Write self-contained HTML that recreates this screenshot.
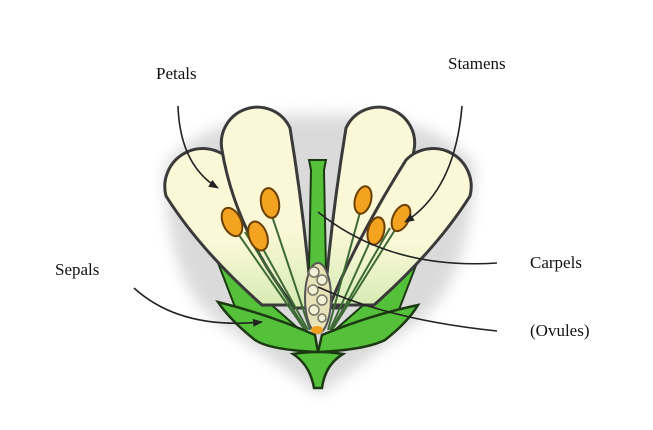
<!DOCTYPE html>
<html><head><style>
html,body{margin:0;padding:0;background:#fff;width:653px;height:430px;overflow:hidden}
text{font-family:"Liberation Serif",serif;font-size:17px;fill:#111}
</style></head><body>
<svg width="653" height="430" viewBox="0 0 653 430">
<defs>
<filter id="sh" x="-20%" y="-20%" width="140%" height="140%"><feGaussianBlur stdDeviation="7"/></filter>
<linearGradient id="pg" x1="0" y1="0" x2="0" y2="1"><stop offset="0.6" stop-color="#fbf8d8"/><stop offset="1" stop-color="#d6ecb4"/></linearGradient>
<marker id="ah" markerWidth="10" markerHeight="8" refX="9" refY="4" orient="auto" markerUnits="userSpaceOnUse"><path d="M0,0 L10,4 L0,8 Z" fill="#222"/></marker>
</defs>
<path d="M165,165 Q210,110 320,115 Q430,110 475,165 Q470,280 420,320 L320,395 L215,320 Q165,280 165,165Z" fill="#888" opacity="0.3" filter="url(#sh)"/>
<path d="M215,255 L300,330 L240,320Z" fill="#55c03a" stroke="#1c3a12" stroke-width="2"/>
<path d="M420,255 L335,330 L395,320Z" fill="#55c03a" stroke="#1c3a12" stroke-width="2"/>
<g stroke="#3a3a3a" stroke-width="3" fill="url(#pg)">
<path d="M262,305 Q200,250 166,196 A38,38 0 0 1 230,160 Q280,240 306,305 Z"/>
<path d="M295,308 Q235,230 222,150 A36,36 0 0 1 290,128 Q305,220 312,308 Z"/>
<path d="M341,308 Q401,230 414,150 A36,36 0 0 0 346,128 Q331,220 324,308 Z"/>
<path d="M374,305 Q436,250 470,196 A38,38 0 0 0 406,160 Q356,240 330,305 Z"/>
</g>
<g stroke="#3e6a35" stroke-width="2" fill="none">
<path d="M232,225 L305,330"/><path d="M258,240 L308,330"/><path d="M270,210 L310,330"/>
<path d="M362,205 L328,330"/><path d="M373,235 L330,330"/><path d="M400,222 L332,330"/>
<path d="M245,232 L306,330"/><path d="M390,228 L331,330"/>
</g>
<path d="M309,160 L326,160 L324,170 L326,270 L309,270 L311,170Z" fill="#55c03a" stroke="#1c3a12" stroke-width="2"/>
<ellipse cx="318" cy="298" rx="13" ry="35" fill="#e8e2b8" stroke="#555" stroke-width="2"/>
<g fill="#f3f0d8" stroke="#776" stroke-width="1.5">
<circle cx="314" cy="272" r="5"/><circle cx="322" cy="280" r="5"/><circle cx="313" cy="290" r="5"/><circle cx="322" cy="300" r="5"/><circle cx="314" cy="310" r="5"/><circle cx="322" cy="318" r="4"/></g>
<ellipse cx="317" cy="330" rx="6" ry="4" fill="#f0a020"/>
<g fill="#f4a321" stroke="#6a4000" stroke-width="2">
<ellipse cx="232" cy="222" rx="9" ry="15" transform="rotate(-25 232 222)"/>
<ellipse cx="258" cy="236" rx="9" ry="15" transform="rotate(-20 258 236)"/>
<ellipse cx="270" cy="203" rx="9" ry="15" transform="rotate(-10 270 203)"/>
<ellipse cx="363" cy="200" rx="8" ry="14" transform="rotate(15 363 200)"/>
<ellipse cx="376" cy="231" rx="8" ry="14" transform="rotate(15 376 231)"/>
<ellipse cx="401" cy="218" rx="8" ry="14" transform="rotate(25 401 218)"/>
</g>
<path d="M218,302 Q270,315 315,335 L318,352 Q270,350 255,340 Q230,320 218,302Z" fill="#55c03a" stroke="#1c3a12" stroke-width="2.5"/>
<path d="M418,305 Q370,315 322,335 L318,352 Q365,350 385,340 Q408,322 418,305Z" fill="#55c03a" stroke="#1c3a12" stroke-width="2.5"/>
<path d="M293,354 Q318,350 343,354 Q325,365 322,388 L314,388 Q310,365 293,354Z" fill="#55c03a" stroke="#1c3a12" stroke-width="2.5"/>
<g stroke="#222" stroke-width="1.6" fill="none">
<path d="M178,106 Q180,165 218,188" marker-end="url(#ah)"/>
<path d="M462,106 Q455,190 405,222" marker-end="url(#ah)"/>
<path d="M134,288 Q180,330 262,322" marker-end="url(#ah)"/>
<path d="M497,263 Q390,270 318,212"/>
<path d="M497,331 Q390,320 318,287"/>
</g>
<text x="156" y="79">Petals</text>
<text x="448" y="69">Stamens</text>
<text x="55" y="275">Sepals</text>
<text x="530" y="268">Carpels</text>
<text x="530" y="336">(Ovules)</text>
</svg>
</body></html>
